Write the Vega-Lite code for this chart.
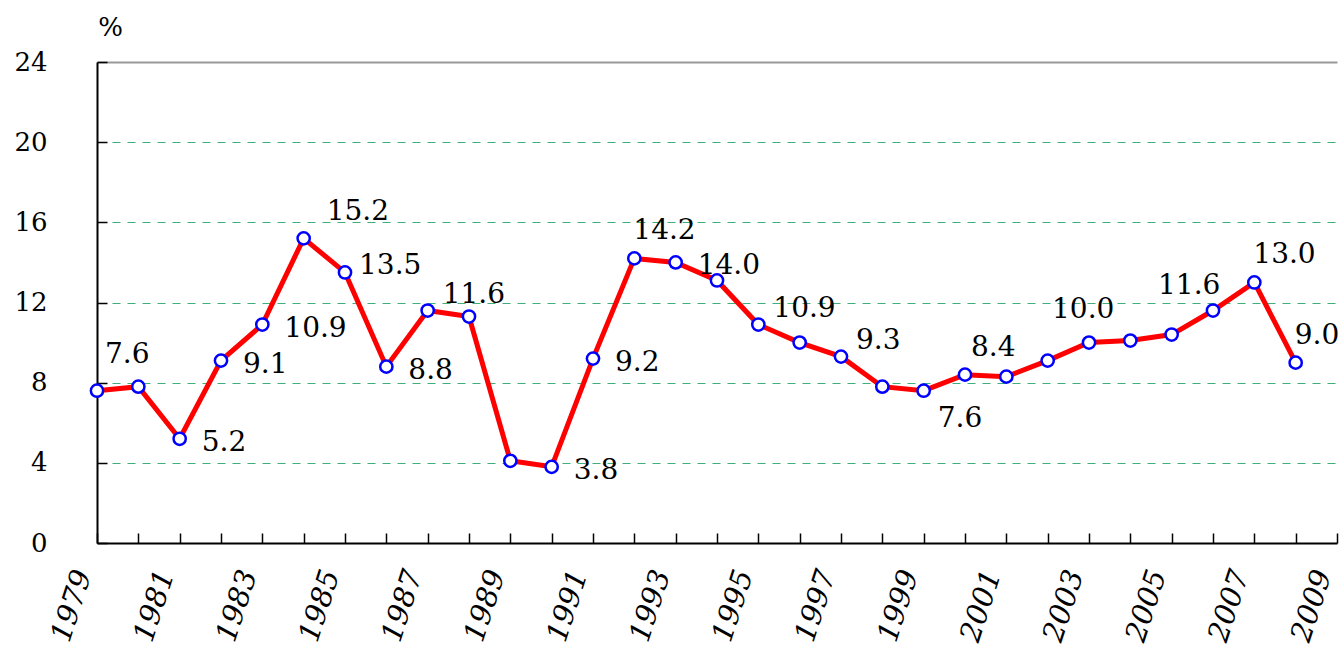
{
  "$schema": "https://vega.github.io/schema/vega-lite/v6.json",
  "width": 1240,
  "height": 481,
  "autosize": {"type": "none"},
  "padding": {"left": 97, "top": 62, "right": 2, "bottom": 111},
  "background": "white",
  "config": {
    "view": {"stroke": null},
    "font": "DejaVu Serif"
  },
  "data": {
    "values": [
      {"year": 1979, "value": 7.6}, {"year": 1980, "value": 7.8}, {"year": 1981, "value": 5.2},
      {"year": 1982, "value": 9.1}, {"year": 1983, "value": 10.9}, {"year": 1984, "value": 15.2},
      {"year": 1985, "value": 13.5}, {"year": 1986, "value": 8.8}, {"year": 1987, "value": 11.6},
      {"year": 1988, "value": 11.3}, {"year": 1989, "value": 4.1}, {"year": 1990, "value": 3.8},
      {"year": 1991, "value": 9.2}, {"year": 1992, "value": 14.2}, {"year": 1993, "value": 14.0},
      {"year": 1994, "value": 13.1}, {"year": 1995, "value": 10.9}, {"year": 1996, "value": 10.0},
      {"year": 1997, "value": 9.3}, {"year": 1998, "value": 7.8}, {"year": 1999, "value": 7.6},
      {"year": 2000, "value": 8.4}, {"year": 2001, "value": 8.3}, {"year": 2002, "value": 9.1},
      {"year": 2003, "value": 10.0}, {"year": 2004, "value": 10.1}, {"year": 2005, "value": 10.4},
      {"year": 2006, "value": 11.6}, {"year": 2007, "value": 13.0}, {"year": 2008, "value": 9.0}
    ]
  },
  "encoding": {
    "x": {
      "field": "year", "type": "quantitative",
      "scale": {"domain": [1979, 2009], "nice": false, "zero": false},
      "axis": {
        "title": null,
        "values": [1979,1980,1981,1982,1983,1984,1985,1986,1987,1988,1989,1990,1991,1992,1993,1994,1995,1996,1997,1998,1999,2000,2001,2002,2003,2004,2005,2006,2007,2008,2009],
        "format": "d",
        "labelExpr": "datum.value % 2 == 1 ? datum.label : ''",
        "grid": false,
        "domainColor": "black", "domainWidth": 2,
        "tickColor": "black", "tickWidth": 1.5, "tickSize": -10,
        "labelAngle": -72, "labelAlign": "right", "labelBaseline": "bottom",
        "labelFont": "DejaVu Serif",
        "labelFontSize": 29, "labelFontStyle": "italic", "labelColor": "black",
        "labelPadding": 42, "labelOverlap": false, "labelFlush": false, "labelBound": false
      }
    },
    "y": {
      "field": "value", "type": "quantitative",
      "scale": {"domain": [0, 24], "nice": false},
      "axis": {
        "values": [0, 4, 8, 12, 16, 20, 24],
        "grid": true,
        "gridColor": {"condition": {"test": "datum.value == 24", "value": "#999999"}, "value": "#3fae7c"},
        "gridDash": {"condition": {"test": "datum.value == 24", "value": [1, 0]}, "value": [8, 7]},
        "gridWidth": {"condition": {"test": "datum.value == 24", "value": 2}, "value": 1.2},
        "domainColor": "black", "domainWidth": 2,
        "tickColor": "black", "tickWidth": 1.5, "tickSize": -10,
        "labelFont": "DejaVu Serif",
        "labelFontSize": 26, "labelColor": "black", "labelPadding": 60,
        "title": "%", "titleAngle": 0, "titleX": 13, "titleY": -35,
        "titleAlign": "center", "titleBaseline": "middle",
        "titleFont": "DejaVu Serif",
        "titleFontSize": 26, "titleFontWeight": "normal", "titleColor": "black"
      }
    }
  },
  "layer": [
    {"mark": {"type": "line", "color": "#ff0000", "strokeWidth": 5}},
    {"mark": {"type": "point", "shape": "circle", "filled": true, "fill": "white", "stroke": "#0000ff", "strokeWidth": 2.5, "size": 150, "opacity": 1}},
    {
      "transform": [{"filter": {"field": "year", "oneOf": [1981, 1982, 1983, 1986, 1990, 1991, 1993]}}],
      "mark": {"type": "text", "font": "DejaVu Serif", "align": "left", "baseline": "middle", "dx": 22, "dy": 4, "fontSize": 28, "color": "black"},
      "encoding": {"text": {"field": "value", "type": "quantitative", "format": ".1f"}}
    },
    {
      "transform": [{"filter": {"field": "year", "oneOf": [1985]}}],
      "mark": {"type": "text", "font": "DejaVu Serif", "align": "left", "baseline": "middle", "dx": 14, "dy": -6, "fontSize": 28, "color": "black"},
      "encoding": {"text": {"field": "value", "type": "quantitative", "format": ".1f"}}
    },
    {
      "transform": [{"filter": {"field": "year", "oneOf": [1987, 1995, 1997]}}],
      "mark": {"type": "text", "font": "DejaVu Serif", "align": "left", "baseline": "middle", "dx": 15, "dy": -16, "fontSize": 28, "color": "black"},
      "encoding": {"text": {"field": "value", "type": "quantitative", "format": ".1f"}}
    },
    {
      "transform": [{"filter": {"field": "year", "oneOf": [1984]}}],
      "mark": {"type": "text", "font": "DejaVu Serif", "align": "left", "baseline": "middle", "dx": 23, "dy": -26, "fontSize": 28, "color": "black"},
      "encoding": {"text": {"field": "value", "type": "quantitative", "format": ".1f"}}
    },
    {
      "transform": [{"filter": {"field": "year", "oneOf": [1992, 2007, 2008]}}],
      "mark": {"type": "text", "font": "DejaVu Serif", "align": "left", "baseline": "middle", "dx": -1, "dy": -27, "fontSize": 28, "color": "black"},
      "encoding": {"text": {"field": "value", "type": "quantitative", "format": ".1f"}}
    },
    {
      "transform": [{"filter": {"field": "year", "oneOf": [1979]}}],
      "mark": {"type": "text", "font": "DejaVu Serif", "align": "left", "baseline": "middle", "dx": 8, "dy": -36, "fontSize": 28, "color": "black"},
      "encoding": {"text": {"field": "value", "type": "quantitative", "format": ".1f"}}
    },
    {
      "transform": [{"filter": {"field": "year", "oneOf": [2000]}}],
      "mark": {"type": "text", "font": "DejaVu Serif", "align": "left", "baseline": "middle", "dx": 6, "dy": -27, "fontSize": 28, "color": "black"},
      "encoding": {"text": {"field": "value", "type": "quantitative", "format": ".1f"}}
    },
    {
      "transform": [{"filter": {"field": "year", "oneOf": [2003]}}],
      "mark": {"type": "text", "font": "DejaVu Serif", "align": "left", "baseline": "middle", "dx": -37, "dy": -33, "fontSize": 28, "color": "black"},
      "encoding": {"text": {"field": "value", "type": "quantitative", "format": ".1f"}}
    },
    {
      "transform": [{"filter": {"field": "year", "oneOf": [2006]}}],
      "mark": {"type": "text", "font": "DejaVu Serif", "align": "left", "baseline": "middle", "dx": -55, "dy": -25, "fontSize": 28, "color": "black"},
      "encoding": {"text": {"field": "value", "type": "quantitative", "format": ".1f"}}
    },
    {
      "transform": [{"filter": {"field": "year", "oneOf": [1999]}}],
      "mark": {"type": "text", "font": "DejaVu Serif", "align": "left", "baseline": "middle", "dx": 14, "dy": 28, "fontSize": 28, "color": "black"},
      "encoding": {"text": {"field": "value", "type": "quantitative", "format": ".1f"}}
    }
  ]
}
